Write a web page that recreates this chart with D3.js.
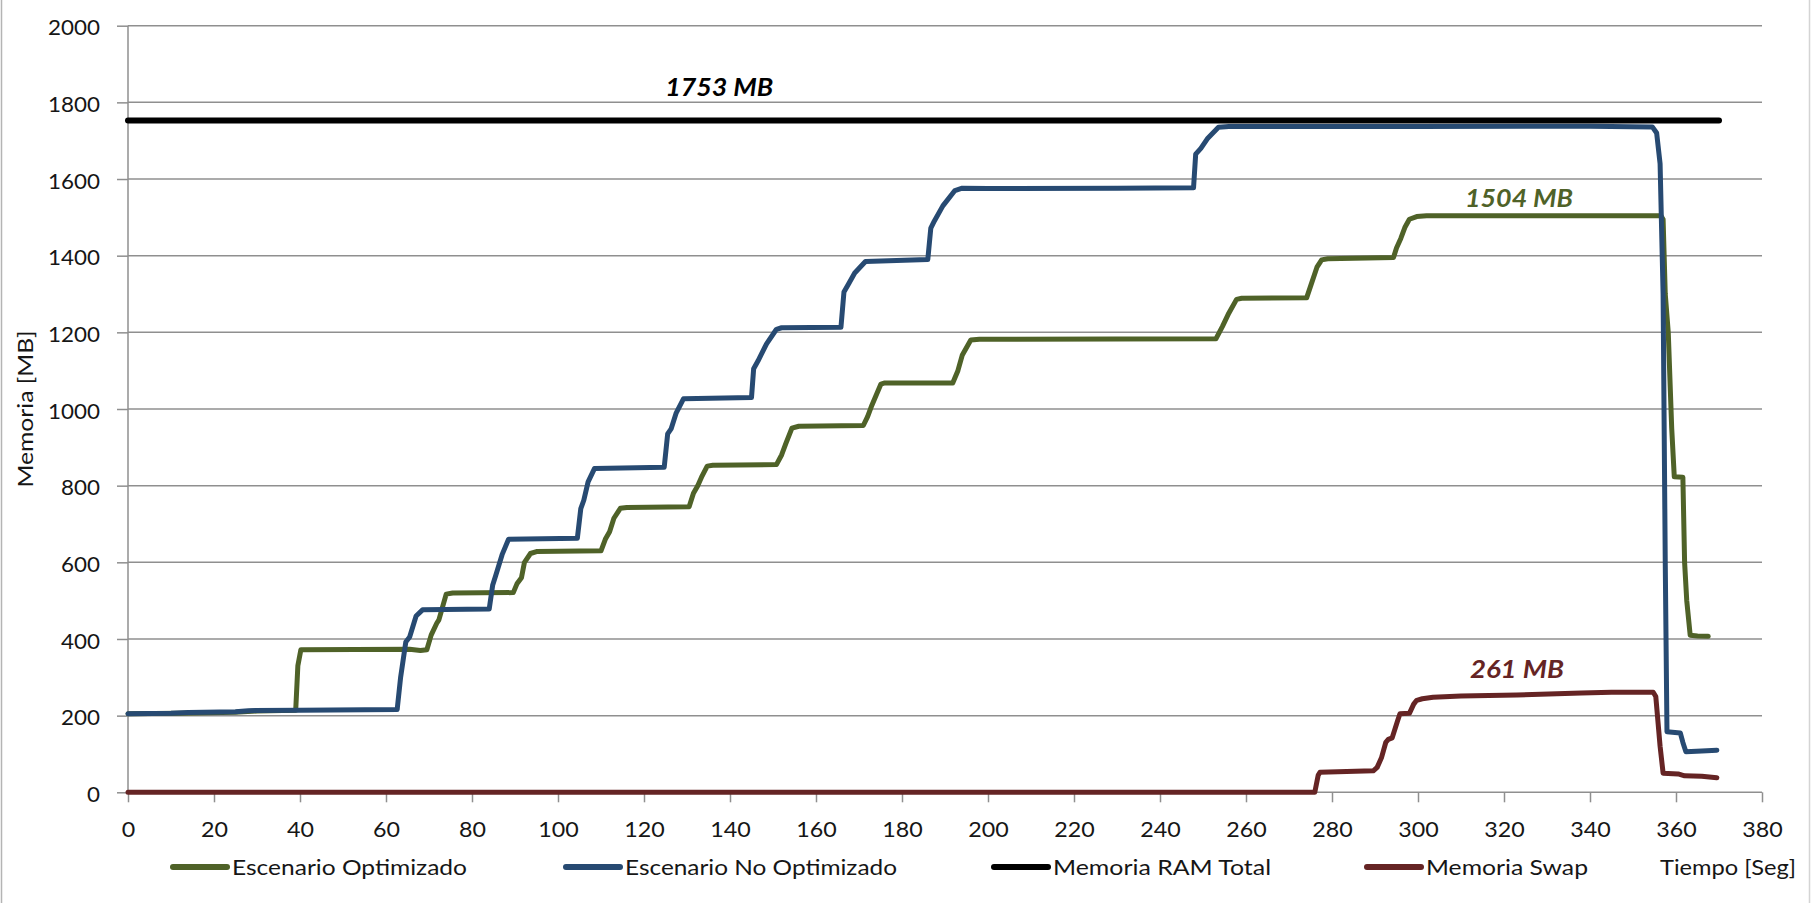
<!DOCTYPE html>
<html>
<head>
<meta charset="utf-8">
<script src="https://cdn.jsdelivr.net/npm/d3@7"></script>
<style>
  html, body { margin: 0; padding: 0; background: #ffffff; }
  svg { display: block; }
  text { font-family: Lato, "Liberation Sans", Arial, sans-serif; }
</style>
</head>
<body>
<script>
// ---------------- DATA ----------------
const xTicks = [0,20,40,60,80,100,120,140,160,180,200,220,240,260,280,300,320,340,360,380];
const yTicks = [0,200,400,600,800,1000,1200,1400,1600,1800,2000];

const seriesNames = ["Escenario Optimizado", "Escenario No Optimizado", "Memoria RAM Total", "Memoria Swap"];
const xAxisLabel = "Tiempo [Seg]";
const yAxisLabel = "Memoria [MB]";

// Escenario Optimizado
const optTime = [0,12,25,30,39,39.5,40.2,65.5,68,69.5,70.5,71.8,72.3,74,75.5,89.6,90.5,91.5,92.2,93.6,95,110,111,112,113,114.5,116,130.5,131.5,132.5,133.5,134.7,136,150.8,152,153,154.4,156,171,172,173,175.1,176,191.8,193,194,196,198,253,254.5,256,257.8,259,274.1,275,276.5,277.6,279,294.3,295,296,297,298,299.7,302,356.5,357,357.5,358.2,359,359.6,361.6,362,362.5,363.3,365,367.5];
const optMem  = [205,206,209,212,214,330,372,373,370,372,410,441,450,517,520,521,545,560,600,623,628,630,660,680,715,741,743,745,780,800,825,851,853,855,880,910,950,955,957,980,1010,1065,1068,1068,1100,1140,1180,1182,1183,1215,1250,1286,1289,1290,1320,1370,1389,1392,1395,1420,1445,1475,1495,1502,1504,1504,1495,1300,1200,950,823,822,600,500,410,408,407];

// Escenario No Optimizado
const noOptTime = [0,10,14,25,28,40,62.6,63.4,64.6,65.5,67,68.5,84,84.8,85.5,87,88.5,104.5,105.3,106,107,108.5,124.7,125.5,126.3,127.5,129.2,145,145.5,146.5,148.5,150.8,152,165.8,166.5,167.5,169,171.5,186,186.7,187.5,189.5,192.3,194,200,230,247.8,248.3,249.5,251,253.6,256,300,340,354.5,355.5,356.3,357,357.5,357.9,361,361.6,362.3,366,369.5];
const noOptMem  = [205,206,208,210,213,214,216,300,392,405,460,476,478,540,565,620,660,663,740,762,810,845,848,935,948,990,1027,1030,1105,1125,1170,1208,1212,1213,1305,1325,1355,1385,1390,1472,1490,1530,1570,1576,1575,1576,1577,1665,1680,1705,1735,1737,1737,1738,1736,1720,1640,1300,600,158,155,130,106,108,110];

// Memoria RAM Total
const ramTime = [0, 370];
const ramMem  = [1753, 1753];

// Memoria Swap
const swapTime = [0,276,276.8,277.2,289.6,290.5,291.5,292.5,293.1,294,295.2,295.8,298,299,299.7,301,303.5,310,323,338,345,354.7,355.3,356.3,357,360.5,362,366,369.5];
const swapMem  = [0,0,45,52,56,65,90,130,138,142,185,205,206,230,240,244,248,251,254,259,261,261,250,120,50,48,43,42,38];

// Annotations (text, anchor time, anchor value)
const annoText = ["1753 MB", "1504 MB", "261 MB"];
const annoTime = [137.5, 323.5, 323.0];
const annoMem  = [1753, 1504, 261];

// ---------------- LAYOUT / STYLE ----------------
const W = 1811, H = 903;
const colors = ["#4f6228", "#274a72", "#000000", "#652424"];
const widths = [5, 5, 6, 5];
const annoOffset = [-24, -9, -14];
const annoLen = [108, 108, 94];

const svg = d3.select("body").append("svg").attr("width", W).attr("height", H);

const x = d3.scaleLinear().domain([0, 380]).range([128, 1762]);
const y = d3.scaleLinear().domain([0, 2000]).range([792.3, 25.7]);

// outer border (left/right)
svg.append("line").attr("x1", 1.5).attr("x2", 1.5).attr("y1", 0).attr("y2", H)
  .attr("stroke", "#b4b4b4").attr("stroke-width", 1.5);
svg.append("line").attr("x1", 1809.5).attr("x2", 1809.5).attr("y1", 0).attr("y2", H)
  .attr("stroke", "#d4d4d4").attr("stroke-width", 1.5);

// gridlines + y axis
const gridColor = "#8f8f8f";
const yAxis = d3.axisLeft(y).tickValues(yTicks).tickSize(11).tickPadding(17).tickFormat(d3.format("d"));
const gy = svg.append("g").attr("transform", `translate(${x(0)},0)`).call(yAxis);
gy.select(".domain").remove();
gy.selectAll(".tick line").attr("stroke", gridColor).attr("stroke-width", 1.5);
gy.selectAll(".tick text").attr("font-size", 22).attr("fill", "#161616").attr("dy", "0.42em")
  .attr("textLength", d => String(d).length * 13).attr("lengthAdjust", "spacingAndGlyphs");

svg.append("g").selectAll("line").data(yTicks).join("line")
  .attr("x1", x(0)).attr("x2", x(380))
  .attr("y1", d => y(d)).attr("y2", d => y(d))
  .attr("stroke", gridColor).attr("stroke-width", 1.5);

// y axis line
svg.append("line").attr("x1", x(0)).attr("x2", x(0)).attr("y1", y(2000)).attr("y2", y(0))
  .attr("stroke", gridColor).attr("stroke-width", 1.5);

// x axis
const xAxis = d3.axisBottom(x).tickValues(xTicks).tickSize(10).tickPadding(19).tickFormat(d3.format("d"));
const gx = svg.append("g").attr("transform", `translate(0,${y(0)})`).call(xAxis);
gx.select(".domain").remove();
gx.selectAll(".tick line").attr("stroke", gridColor).attr("stroke-width", 1.5);
gx.selectAll(".tick text").attr("font-size", 22).attr("fill", "#161616")
  .attr("textLength", d => String(d).length * 13.5).attr("lengthAdjust", "spacingAndGlyphs");

// y axis title
svg.append("text")
  .attr("transform", `translate(33,${(y(800) + y(1200)) / 2}) rotate(-90)`)
  .attr("text-anchor", "middle")
  .attr("font-size", 21).attr("fill", "#161616")
  .attr("textLength", 157).attr("lengthAdjust", "spacingAndGlyphs")
  .text(yAxisLabel);

// series
const series = [
  { t: optTime, v: optMem },
  { t: noOptTime, v: noOptMem },
  { t: ramTime, v: ramMem },
  { t: swapTime, v: swapMem }
];
const line = d3.line().x(d => x(d[0])).y(d => y(d[1]));
series.forEach((s, i) => {
  const pts = s.t.map((t, k) => [t, s.v[k]]);
  svg.append("path").datum(pts)
    .attr("d", line)
    .attr("fill", "none")
    .attr("stroke", colors[i])
    .attr("stroke-width", widths[i])
    .attr("stroke-linejoin", "round")
    .attr("stroke-linecap", "round");
});

// annotations
const annoColors = [colors[2], colors[0], colors[3]];
annoText.forEach((txt, i) => {
  svg.append("text")
    .attr("x", x(annoTime[i]))
    .attr("y", y(annoMem[i]) + annoOffset[i])
    .attr("text-anchor", "middle")
    .attr("font-size", 24).attr("font-weight", "bold").attr("font-style", "italic")
    .attr("fill", annoColors[i])
    .attr("textLength", annoLen[i]).attr("lengthAdjust", "spacingAndGlyphs")
    .text(txt);
});

// legend
const legY = 867;
const legLineX = [173, 566, 994, 1367];
const legTextLen = [235, 272, 218, 162];
seriesNames.forEach((name, i) => {
  svg.append("line")
    .attr("x1", legLineX[i]).attr("x2", legLineX[i] + 54)
    .attr("y1", legY).attr("y2", legY)
    .attr("stroke", colors[i]).attr("stroke-width", 6).attr("stroke-linecap", "round");
  svg.append("text")
    .attr("x", legLineX[i] + 59).attr("y", legY + 8)
    .attr("font-size", 22).attr("fill", "#161616")
    .attr("textLength", legTextLen[i]).attr("lengthAdjust", "spacingAndGlyphs")
    .text(name);
});
svg.append("text")
  .attr("x", 1660).attr("y", legY + 8)
  .attr("font-size", 22).attr("fill", "#161616")
  .attr("textLength", 136).attr("lengthAdjust", "spacingAndGlyphs")
  .text(xAxisLabel);
</script>
</body>
</html>
